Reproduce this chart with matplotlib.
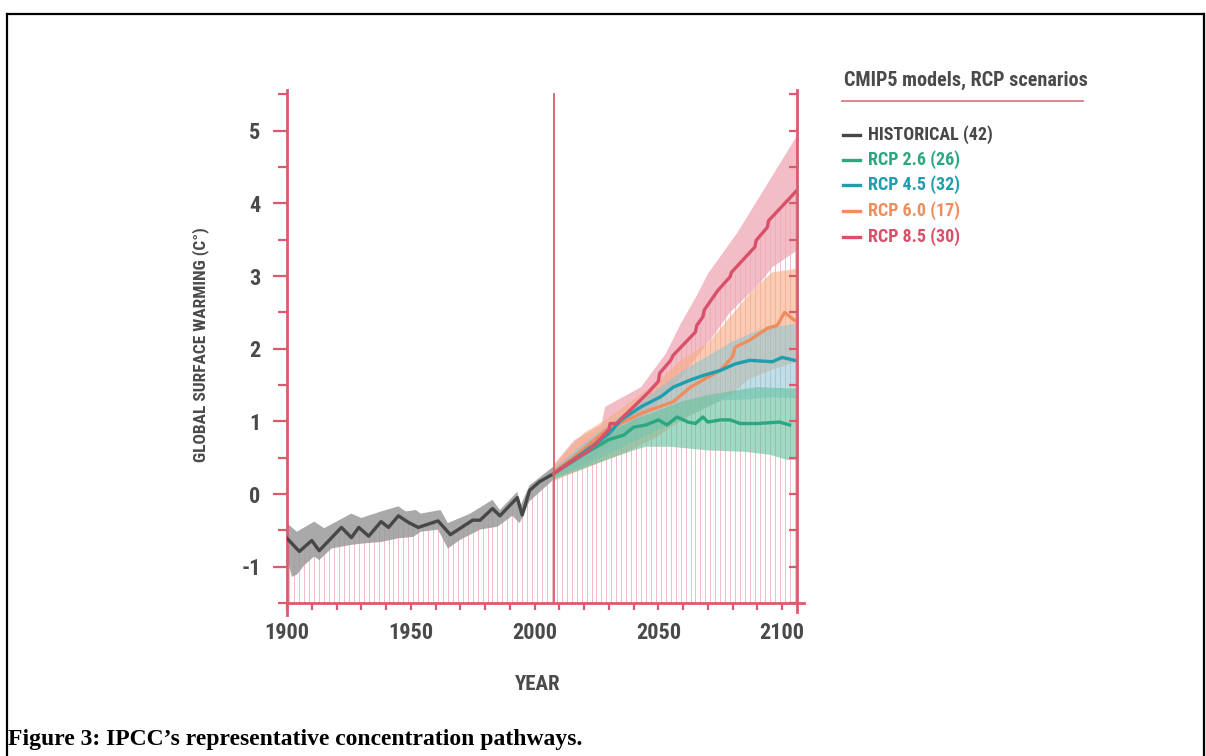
import numpy as np
import matplotlib
matplotlib.use("Agg")
import matplotlib.pyplot as plt
from matplotlib import font_manager
from matplotlib.lines import Line2D
from matplotlib.ticker import MultipleLocator

# ---- data ----
split_year = 2007.7

hist_years = [1900, 1905, 1910, 1913, 1922, 1926, 1929, 1933, 1938, 1941, 1945, 1949,
              1953, 1961, 1966, 1975, 1978, 1983, 1986, 1993, 1995, 1998, 2002, 2007.7]
hist_vals = [-0.61, -0.79, -0.64, -0.78, -0.46, -0.60, -0.46, -0.58, -0.38, -0.46, -0.30, -0.39,
             -0.46, -0.37, -0.56, -0.36, -0.36, -0.20, -0.30, -0.05, -0.29, 0.05, 0.17, 0.28]
hist_up_years = [1900, 1904, 1911, 1915, 1926, 1930, 1938, 1945, 1948, 1952, 1954, 1962,
                 1965, 1974, 1983, 1986, 1993, 1994.5, 1998, 2007.7]
hist_up = [-0.40, -0.52, -0.38, -0.47, -0.27, -0.33, -0.24, -0.17, -0.24, -0.22, -0.27, -0.22,
           -0.40, -0.27, -0.08, -0.22, 0.03, -0.15, 0.12, 0.38]
hist_lo_years = [1900, 1902, 1904, 1907, 1911, 1913, 1918, 1926, 1931, 1938, 1945, 1951,
                 1954, 1961, 1965, 1970, 1978, 1985, 1991, 1994, 1998, 2007.7]
hist_lo = [-0.88, -1.14, -1.11, -0.98, -0.86, -0.91, -0.75, -0.70, -0.68, -0.66, -0.61, -0.59,
           -0.52, -0.49, -0.75, -0.63, -0.49, -0.45, -0.30, -0.40, -0.10, 0.20]

r85_years = [2007.7, 2015, 2022, 2030, 2030.5, 2033, 2040, 2046, 2050, 2050.5, 2055, 2056,
             2065, 2065.5, 2068, 2068.5, 2074, 2079, 2079.5, 2089, 2089.5, 2094, 2094.5, 2106]
r85_vals = [0.28, 0.45, 0.60, 0.88, 0.97, 0.97, 1.20, 1.40, 1.55, 1.66, 1.84, 1.91,
            2.23, 2.32, 2.44, 2.53, 2.80, 2.99, 3.05, 3.40, 3.49, 3.67, 3.76, 4.18]
r85_up_years = [2007.7, 2016, 2027, 2028.5, 2043, 2053, 2059, 2066, 2070, 2082, 2106]
r85_up = [0.40, 0.74, 0.95, 1.20, 1.47, 1.93, 2.34, 2.76, 3.03, 3.60, 4.93]
r85_lo_years = [2007.7, 2020, 2030, 2040, 2050, 2060, 2071, 2079, 2091, 2096, 2106]
r85_lo = [0.22, 0.42, 0.65, 0.95, 1.25, 1.65, 2.12, 2.50, 2.90, 3.12, 3.35]

r60_years = [2007.7, 2016, 2029, 2043, 2056, 2063, 2068, 2075, 2080, 2081, 2087, 2094,
             2098, 2101, 2105]
r60_vals = [0.30, 0.51, 0.88, 1.11, 1.27, 1.47, 1.57, 1.70, 1.89, 2.02, 2.12, 2.28,
            2.32, 2.50, 2.39]
r60_up_years = [2007.7, 2013, 2020, 2030, 2040, 2050, 2059, 2070, 2079, 2088, 2096, 2106]
r60_up = [0.38, 0.60, 0.84, 1.05, 1.30, 1.55, 1.84, 2.07, 2.44, 2.80, 3.05, 3.10]
r60_lo_years = [2007.7, 2020, 2030, 2040, 2050, 2055, 2062, 2070, 2080, 2086, 2095, 2106]
r60_lo = [0.18, 0.35, 0.48, 0.62, 0.80, 0.92, 1.06, 1.20, 1.38, 1.57, 1.70, 1.82]

r45_years = [2007.7, 2025, 2030, 2035, 2043, 2051, 2056, 2063, 2068, 2075, 2081, 2087,
             2096, 2100, 2105]
r45_vals = [0.28, 0.70, 0.83, 1.02, 1.20, 1.34, 1.47, 1.57, 1.63, 1.70, 1.79, 1.84,
            1.82, 1.88, 1.84]
r45_up_years = [2007.7, 2020, 2030, 2040, 2050, 2060, 2070, 2080, 2090, 2106]
r45_up = [0.35, 0.70, 0.95, 1.20, 1.45, 1.70, 1.90, 2.10, 2.25, 2.35]
r45_lo_years = [2007.7, 2020, 2030, 2040, 2050, 2060, 2070, 2076, 2085, 2095, 2106]
r45_lo = [0.22, 0.38, 0.55, 0.72, 0.88, 1.05, 1.20, 1.29, 1.30, 1.33, 1.32]

r26_years = [2007.7, 2020, 2030, 2036, 2040, 2045, 2050, 2053.5, 2057.5, 2062, 2065, 2068,
             2070, 2075, 2079, 2083, 2090, 2099, 2103]
r26_vals = [0.28, 0.55, 0.75, 0.81, 0.92, 0.95, 1.02, 0.95, 1.06, 0.99, 0.97, 1.06,
            0.99, 1.02, 1.02, 0.97, 0.97, 0.99, 0.95]
r26_up_years = [2007.7, 2020, 2030, 2040, 2050, 2060, 2070, 2080, 2090, 2106]
r26_up = [0.33, 0.62, 0.85, 1.02, 1.15, 1.28, 1.36, 1.42, 1.47, 1.45]
r26_lo_years = [2007.7, 2020, 2030, 2040, 2045, 2055, 2070, 2085, 2095, 2102, 2106]
r26_lo = [0.20, 0.35, 0.48, 0.60, 0.65, 0.65, 0.60, 0.58, 0.54, 0.47, 0.47]

legend_labels = ["HISTORICAL (42)", "RCP 2.6 (26)", "RCP 4.5 (32)", "RCP 6.0 (17)", "RCP 8.5 (30)"]
legend_colors = ["#474747", "#2aa882", "#1f9eae", "#f08d5e", "#d8506a"]

RED = "#d95b6c"
GREY = "#4a4a4a"

# pick a narrow sans face if one is around, else a plain one
names = {f.name for f in font_manager.fontManager.ttflist}
NARROW = None
for cand in ["Liberation Sans Narrow", "Roboto Condensed", "Open Sans Condensed",
             "DejaVu Sans Condensed", "Noto Sans Condensed"]:
    if cand in names:
        NARROW = cand
        break
STRETCH = "normal"
if NARROW is None:
    if any(("DejaVu Sans" == f.name and str(f.stretch) == "condensed")
           for f in font_manager.fontManager.ttflist):
        NARROW, STRETCH = "DejaVu Sans", "condensed"
    else:
        NARROW = "Liberation Sans"

plt.rcParams["font.family"] = [NARROW, "DejaVu Sans"]
plt.rcParams["font.stretch"] = STRETCH
plt.rcParams["font.weight"] = "bold"
plt.rcParams["axes.unicode_minus"] = False

fig = plt.figure(figsize=(12.06, 7.56), dpi=100)
W, H = 1206, 756
ax = fig.add_axes([287 / W, 1 - 603 / H, (797 - 287) / W, (603 - 90) / H])
ax.set_xlim(1900, 2106)
ax.set_ylim(-1.5, 5.56)

# thin vertical hatching, up to the historical / highest scenario line
vl_years = np.arange(1901, 2106, 2)
vl_top = np.where(vl_years < split_year,
                  np.interp(vl_years, hist_years, hist_vals),
                  np.interp(vl_years, r85_years, r85_vals))
ax.vlines(vl_years, -1.5, vl_top, color="#f0bcc3", lw=0.7, zorder=1)

def band(xu, yu, xl, yl, color, alpha):
    ax.fill(np.r_[xu, xl[::-1]], np.r_[yu, yl[::-1]], color=color, alpha=alpha, lw=0, zorder=2)

band(hist_up_years, hist_up, hist_lo_years, hist_lo, "#9a9a9a", 0.85)
band(r85_up_years, r85_up, r85_lo_years, r85_lo, "#eea7b3", 0.75)
band(r60_up_years, r60_up, r60_lo_years, r60_lo, "#f7ad86", 0.62)
band(r45_up_years, r45_up, r45_lo_years, r45_lo, "#86c6d6", 0.55)
band(r26_up_years, r26_up, r26_lo_years, r26_lo, "#66c2a0", 0.62)

ax.plot(hist_years, hist_vals, color=legend_colors[0], lw=2.4, zorder=5)
ax.plot(r26_years, r26_vals, color=legend_colors[1], lw=2.4, zorder=5)
ax.plot(r60_years, r60_vals, color=legend_colors[3], lw=2.4, zorder=5)
ax.plot(r45_years, r45_vals, color=legend_colors[2], lw=2.4, zorder=6)
ax.plot(r85_years, r85_vals, color=legend_colors[4], lw=2.4, zorder=7)

ax.plot([split_year, split_year], [-1.5, 5.5], color=RED, lw=1.3, zorder=8)

# spines and ticks
for s in ["top", "right"]:
    ax.spines[s].set_visible(False)
for s in ["left", "bottom"]:
    ax.spines[s].set_color(RED)
    ax.spines[s].set_linewidth(2)
ax.spines["left"].set_bounds(-1.67, 5.56)
ax.spines["bottom"].set_bounds(1900, 2109)

ax.yaxis.set_major_locator(MultipleLocator(1))
ax.yaxis.set_minor_locator(MultipleLocator(0.5))
ax.xaxis.set_major_locator(MultipleLocator(50))
ax.xaxis.set_minor_locator(MultipleLocator(10))
ax.tick_params(axis="y", which="major", length=10, width=1.6, color=RED, pad=9,
               labelsize=16, labelcolor=GREY)
ax.tick_params(axis="y", which="minor", length=6.5, width=1.6, color=RED)
ax.tick_params(axis="x", which="both", length=5, width=1.6, color=RED, pad=9,
               labelsize=16, labelcolor=GREY)
for lab in ax.get_xticklabels() + ax.get_yticklabels():
    lab.set_fontweight("bold")

ax2 = ax.twinx()
ax2.set_ylim(-1.5, 5.56)
for s in ["top", "left", "bottom"]:
    ax2.spines[s].set_visible(False)
ax2.spines["right"].set_color(RED)
ax2.spines["right"].set_linewidth(2)
ax2.spines["right"].set_bounds(-1.63, 5.56)
ax2.yaxis.set_major_locator(MultipleLocator(0.5))
ax2.tick_params(axis="y", direction="in", length=6, width=1.6, color=RED, labelright=False)

fig.text(201 / W, 1 - 345 / H, "GLOBAL SURFACE WARMING (C°)", rotation=90, ha="center",
         va="center", fontsize=12.5, color=GREY, fontweight="bold")
fig.text(538 / W, 1 - 685 / H, "YEAR", ha="center", va="center", fontsize=15,
         color=GREY, fontweight="bold")

# legend block
fig.text(844 / W, 1 - 80 / H, "CMIP5 models, RCP scenarios", ha="left", va="center",
         fontsize=14.5, color=GREY, fontweight="bold")
fig.add_artist(Line2D([842 / W, 1083 / W], [1 - 101 / H, 1 - 101 / H], color="#e07a86", lw=1.3))
row_y = [135, 160, 185, 211, 237]
for lab, col, ry in zip(legend_labels, legend_colors, row_y):
    fig.add_artist(Line2D([843 / W, 860 / W], [1 - ry / H, 1 - ry / H], color=col, lw=2.4))
    fig.text(868 / W, 1 - ry / H, lab, ha="left", va="center", fontsize=13,
             color=col, fontweight="bold")

# caption and page frame
fig.text(8 / W, 1 - 745 / H, "Figure 3: IPCC\u2019s representative concentration pathways.",
         ha="left", va="baseline", fontsize=17, fontweight="bold", stretch="normal",
         family=["Liberation Serif", "DejaVu Serif"], color="black")
fig.add_artist(Line2D([7 / W, 7 / W], [0, 1 - 14 / H], color="black", lw=1.6))
fig.add_artist(Line2D([7 / W, 1204 / W], [1 - 14 / H, 1 - 14 / H], color="black", lw=1.6))
fig.add_artist(Line2D([1204 / W, 1204 / W], [0, 1 - 14 / H], color="black", lw=1.6))

fig.savefig("out.png", dpi=100)
